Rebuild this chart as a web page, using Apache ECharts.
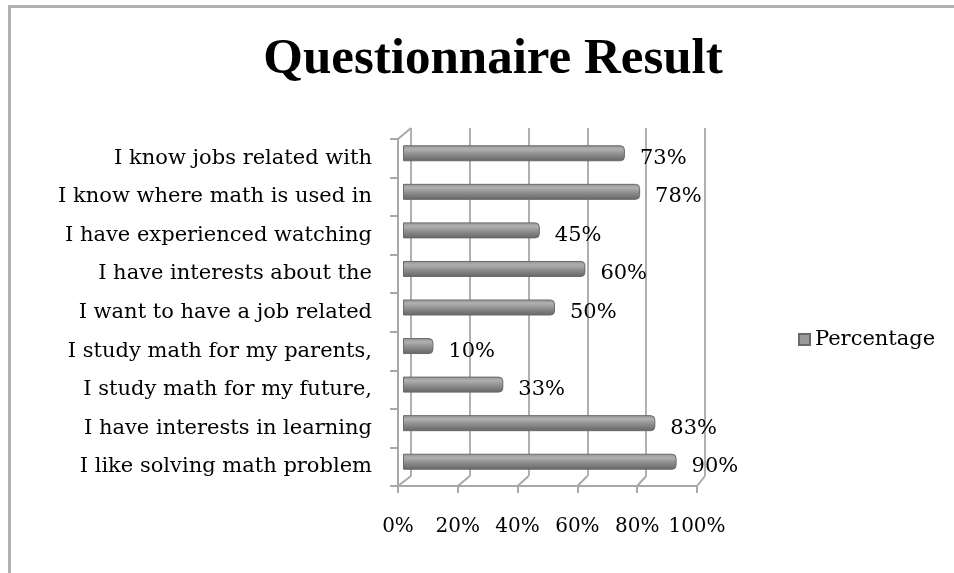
<!DOCTYPE html>
<html>
<head>
<meta charset="utf-8">
<script src="https://cdn.jsdelivr.net/npm/echarts@6/dist/echarts.min.js"></script>
<style>
html,body{margin:0;padding:0;background:#fff;}
#frame{position:absolute;left:8px;top:5px;width:960px;height:580px;border-left:3px solid #b0b0b0;border-top:3px solid #b0b0b0;}
#chart{position:absolute;left:0;top:0;width:954px;height:573px;}
</style>
</head>
<body>
<div id="frame"></div>
<div id="chart"></div>
<script>
const titleText = 'Questionnaire Result';
const seriesName = 'Percentage';
const categories = [
  'I know jobs related with',
  'I know where math is used in',
  'I have experienced watching',
  'I have interests about the',
  'I want to have a job related',
  'I study math for my parents,',
  'I study math for my future,',
  'I have interests in learning',
  'I like solving math problem'
];
const values = [73, 78, 45, 60, 50, 10, 33, 83, 90];
const xTicks = [0, 20, 40, 60, 80, 100];

const serif = '"DejaVu Serif", "Liberation Serif", serif';
const chart = echarts.init(document.getElementById('chart'), null, {renderer: 'canvas'});

const barColor = new echarts.graphic.LinearGradient(0, 0, 0, 1, [
  {offset: 0, color: '#939393'},
  {offset: 0.25, color: '#b0b0b0'},
  {offset: 0.55, color: '#8f8f8f'},
  {offset: 1, color: '#646464'}
]);

const option = {
  animation: false,
  title: {
    text: titleText,
    left: 488, top: 29, textAlign: 'center',
    textStyle: {fontFamily: '"Liberation Serif", serif', fontWeight: 'bold', fontSize: 51, color: '#000'}
  },
  legend: {
    left: 793, top: 324,
    itemWidth: 11, itemHeight: 11, itemGap: 6,
    icon: 'rect',
    data: [{name: seriesName, itemStyle: {color: '#9a9a9a'}}],
    textStyle: {fontFamily: serif, fontSize: 21, color: '#000', padding: [0, 0, 0, 0]}
  },
  grid: [
    {left: 403, width: 304, top: 134, height: 347},
    {left: 411, width: 294, top: 128, height: 348},
    {left: 398, width: 299, top: 139, height: 347}
  ],
  xAxis: [
    {gridIndex: 0, type: 'value', min: 0, max: 100, interval: 20, show: false},
    {gridIndex: 1, type: 'value', min: 0, max: 100, interval: 20,
      axisLine: {show: false}, axisTick: {show: false}, axisLabel: {show: false},
      splitLine: {show: true, lineStyle: {color: '#b0b0b0', width: 2}}},
    {gridIndex: 2, type: 'value', min: 0, max: 100, interval: 20,
      axisLine: {show: true, lineStyle: {color: '#a8a8a8', width: 2}},
      axisTick: {show: true, length: 7, lineStyle: {color: '#a8a8a8', width: 2}},
      splitLine: {show: false},
      axisLabel: {margin: 31, fontFamily: serif, fontSize: 20, color: '#000',
        formatter: v => xTicks.includes(v) ? v + '%' : ''}}
  ],
  yAxis: [
    {gridIndex: 0, type: 'category', data: categories, inverse: true, show: false},
    {gridIndex: 1, type: 'category', data: categories, inverse: true, show: false},
    {gridIndex: 2, type: 'category', data: categories, inverse: true,
      axisLine: {show: true, lineStyle: {color: '#a8a8a8', width: 2}},
      axisTick: {show: true, length: 8, lineStyle: {color: '#a8a8a8', width: 2}},
      axisLabel: {margin: 26, fontFamily: serif, fontSize: 21, color: '#000'}}
  ],
  series: [{
    name: seriesName,
    type: 'bar',
    xAxisIndex: 0, yAxisIndex: 0,
    data: values,
    barWidth: 16,
    itemStyle: {color: barColor, borderColor: '#6a6a6a', borderWidth: 1, borderRadius: [0, 4, 4, 0]},
    label: {show: true, position: 'right', distance: 15, offset: [0, 5],
      formatter: p => p.value + '%', fontFamily: serif, fontSize: 21, color: '#000'}
  }]
};
chart.setOption(option);

// 3D floor & wall connectors derived from the axes' own scales
const g = [];
const lineStyle = {stroke: '#a8a8a8', lineWidth: 2};
const frontBottom = chart.convertToPixel({yAxisIndex: 2}, categories[categories.length - 1]) + 347 / 18;
const backBottom = chart.convertToPixel({yAxisIndex: 1}, categories[categories.length - 1]) + 348 / 18;
xTicks.forEach(v => {
  const fx = chart.convertToPixel({xAxisIndex: 2}, v);
  const bx = chart.convertToPixel({xAxisIndex: 1}, v);
  g.push({type: 'line', shape: {x1: fx, y1: frontBottom, x2: bx, y2: backBottom}, style: lineStyle, silent: true});
});
const frontTop = chart.convertToPixel({yAxisIndex: 2}, categories[0]) - 347 / 18;
const backTop = chart.convertToPixel({yAxisIndex: 1}, categories[0]) - 348 / 18;
const fx0 = chart.convertToPixel({xAxisIndex: 2}, 0);
const bx0 = chart.convertToPixel({xAxisIndex: 1}, 0);
g.push({type: 'line', shape: {x1: fx0, y1: frontTop, x2: bx0, y2: backTop}, style: lineStyle, silent: true});
chart.setOption({graphic: g});
</script>
</body>
</html>
